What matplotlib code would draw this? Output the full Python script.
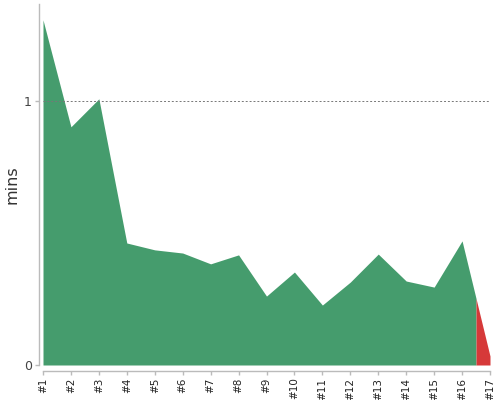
import matplotlib
matplotlib.use("Agg")
import matplotlib.pyplot as plt
import numpy as np

labels = ["#1", "#2", "#3", "#4", "#5", "#6", "#7", "#8", "#9", "#10",
          "#11", "#12", "#13", "#14", "#15", "#16", "#17"]
mins = [1.307, 0.902, 1.008, 0.462, 0.436, 0.424, 0.383, 0.417, 0.261, 0.352,
        0.227, 0.314, 0.420, 0.318, 0.295, 0.470, 0.034]
red_start = 16.5  # failing build shading starts midway to last point

green = "#459C6D"
red = "#D63939"

fig = plt.figure(figsize=(5, 4), dpi=100)
ax = fig.add_axes([0.086, 0.0875, 0.894, 0.9025])

x = np.arange(1, len(mins) + 1)
y = np.array(mins)
y_split = np.interp(red_start, x, y)

gx = np.concatenate([x[x < red_start], [red_start]])
gy = np.concatenate([y[x < red_start], [y_split]])
rx = np.concatenate([[red_start], x[x > red_start]])
ry = np.concatenate([[y_split], y[x > red_start]])

ax.fill_between(gx, 0, gy, color=green, linewidth=0, zorder=2)
ax.fill_between(rx, 0, ry, color=red, linewidth=0, zorder=2)

ax.axhline(1, color="#777777", linestyle=(0, (2, 2)), linewidth=0.7, zorder=3)

ax.set_xlim(1, 17)
ax.set_ylim(0, 1.367)
ax.set_xticks(x)
ax.set_xticklabels(labels)
ax.set_yticks([0, 1])
ax.set_yticklabels(["0", "1"])

for s in ["top", "right"]:
    ax.spines[s].set_visible(False)
ax.spines["left"].set_position(("outward", 3))
ax.spines["bottom"].set_position(("outward", 4))
for s in ["left", "bottom"]:
    ax.spines[s].set_color("#BBBBBB")
    ax.spines[s].set_linewidth(1)
ax.tick_params(axis="both", color="#BBBBBB", length=3, width=1, pad=2)

for t in ax.get_xticklabels():
    t.set_rotation(90)
    t.set_fontsize(7.5)
    t.set_color("#222222")
    t.set_ha("center")
    t.set_va("top")
for t in ax.get_yticklabels():
    t.set_fontsize(9)
    t.set_color("#444444")

ax.set_ylabel("mins", fontsize=11.5, color="#333333")
ax.yaxis.set_label_coords(-0.052, 0.5)

fig.savefig("out.png", dpi=100)
